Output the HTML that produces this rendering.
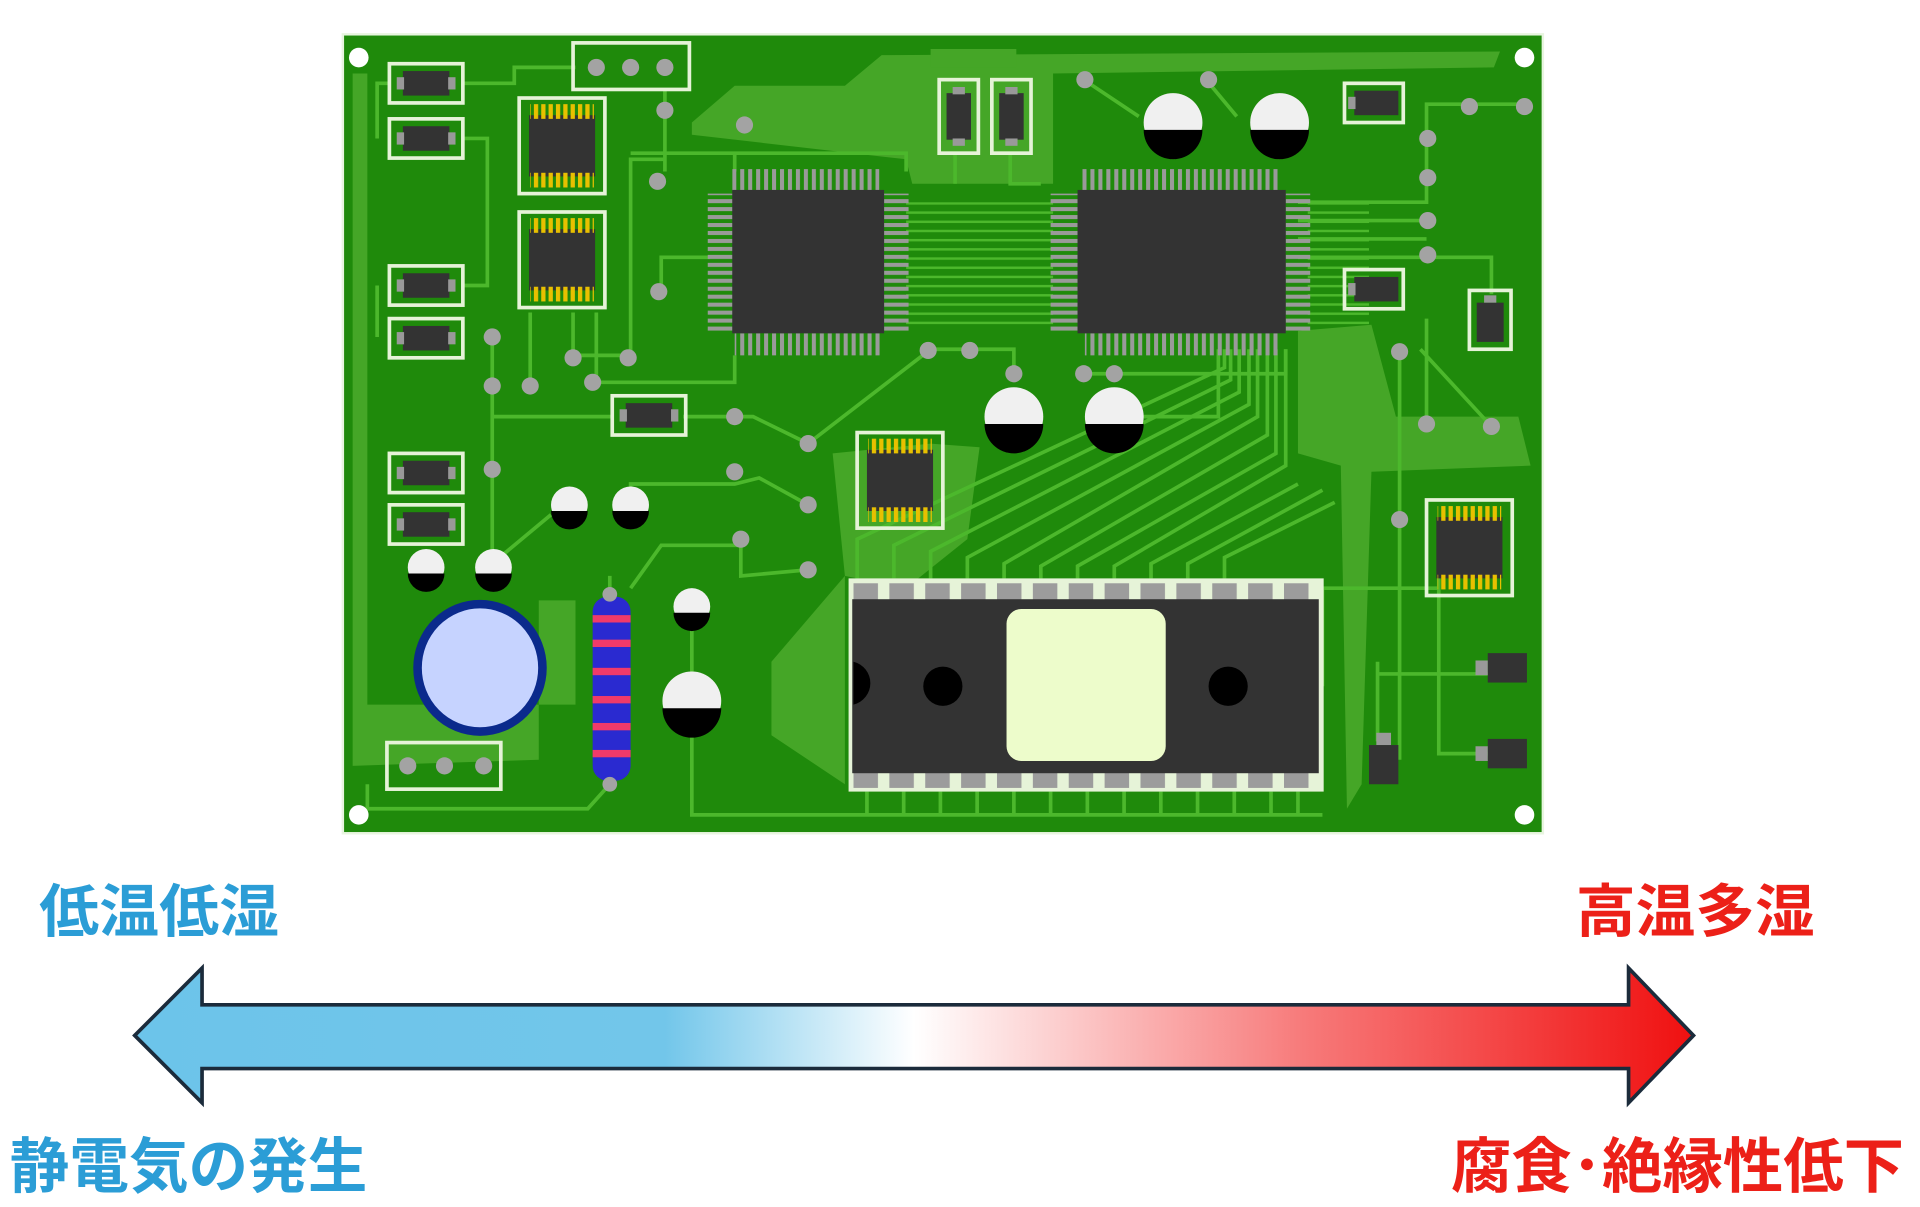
<!DOCTYPE html>
<html><head><meta charset="utf-8"><style>
html,body{margin:0;padding:0;background:#fff;width:1920px;height:1207px;overflow:hidden}
svg{display:block}
text{font-family:"Liberation Sans","Noto Sans CJK JP",sans-serif;font-weight:bold}
</style></head><body>
<svg width="1920" height="1207" viewBox="0 0 1568 985" preserveAspectRatio="none" xmlns="http://www.w3.org/2000/svg">
<defs>
<linearGradient id="ag" x1="110" x2="1383" y1="0" y2="0" gradientUnits="userSpaceOnUse">
<stop offset="0" stop-color="#6cc4ea"/><stop offset="0.34" stop-color="#72c6ea"/>
<stop offset="0.5" stop-color="#ffffff"/><stop offset="0.75" stop-color="#f77a7a"/><stop offset="1" stop-color="#f01010"/></linearGradient>
<pattern id="pv" width="6.5" height="20" patternUnits="userSpaceOnUse"><rect width="3.3" height="20" fill="#9a9a9a"/></pattern>
<pattern id="ph" width="20" height="6.5" patternUnits="userSpaceOnUse"><rect width="20" height="3.3" fill="#9a9a9a"/></pattern>
<pattern id="py" width="6" height="20" patternUnits="userSpaceOnUse"><rect width="3.5" height="20" fill="#e8c000"/></pattern>
<pattern id="pd" width="29.3" height="20" patternUnits="userSpaceOnUse" x="697"><rect width="20" height="20" fill="#9c9c9c"/></pattern>
<pattern id="tr" width="20" height="7.5" patternUnits="userSpaceOnUse" y="165"><rect width="20" height="2" fill="#4cb82c"/></pattern>
<g id="res"><rect x="0" y="0" width="60" height="32" fill="none" stroke="#e6f3d8" stroke-width="3"/><rect x="11" y="6" width="38" height="20" fill="#333"/><rect x="6" y="11" width="6" height="10" fill="#999"/><rect x="48" y="11" width="6" height="10" fill="#999"/></g>
<g id="vres"><rect x="0" y="0" width="32" height="60" fill="none" stroke="#e6f3d8" stroke-width="3"/><rect x="6" y="11" width="20" height="38" fill="#333"/><rect x="11" y="6" width="10" height="6" fill="#999"/><rect x="11" y="48" width="10" height="6" fill="#999"/></g>
<g id="soic"><rect x="0" y="0" width="70" height="78" fill="none" stroke="#e6f3d8" stroke-width="3"/><rect x="8" y="14" width="54" height="50" fill="#333"/><rect x="9" y="5" width="52" height="12" fill="url(#py)"/><rect x="9" y="61" width="52" height="12" fill="url(#py)"/></g>
<g id="cap"><circle r="24" fill="#f0f0f0"/><path d="M-24 6 A24 24 0 0 0 24 6 Z" fill="#000"/></g>
<g id="scap"><circle r="15" fill="#f0f0f0"/><path d="M-15 5 A15 15 0 0 0 15 5 Z" fill="#000"/></g>
</defs>

<rect x="280" y="28" width="980" height="652" fill="#1f8a0b"/>
<rect x="280" y="28" width="980" height="652" fill="none" stroke="#e8f5e0" stroke-width="2"/>
<g fill="#45a627">
<polygon points="565,100 600,70 690,70 720,45 1225,42 1220,55 860,60 860,150 745,150 740,130 565,110"/>
<polygon points="680,370 760,362 800,365 790,440 740,480 690,470 630,540 630,600 690,640 690,470"/>
<polygon points="1060,270 1120,265 1140,340 1240,340 1250,380 1120,385 1112,640 1100,660 1095,380 1060,370"/>
<polygon points="288,60 300,60 300,575 470,575 470,490 440,490 440,620 288,625"/>
<polygon points="760,40 830,40 830,55 760,55"/>
</g>
<g stroke="#4cb82c" stroke-width="3" fill="none">
<path d="M378 68 H420 V55 H470"/><path d="M378 113 H398 V233 H378"/><path d="M318 68 H308 V113 M308 233 V275"/>
<path d="M543 72 V130 H515 V290 M543 90 V140"/><path d="M515 125 H600 V140 M600 125 H740 V140"/>
<path d="M540 238 V210 H580"/><path d="M402 275 V455 M402 340 H500 M558 340 H600 L615 340 L660 362"/>
<path d="M468 290 V255 M487 312 V255 M433 315 V255 M487 312 H600 V290"/><path d="M470 290 H515"/>
<path d="M660 362 L760 285 H790 M790 285 H828 V300"/>
<path d="M885 65 L930 95 M985 65 L1010 95 M1045 100 V130 M958 100 V130"/>
<path d="M780 125 V150 M825 125 V150 H850"/>
<path d="M1060 165 H1165 V85 H1245 M1060 180 H1165 M1060 195 H1165 M1060 210 H1218 V240"/>
<path d="M1143 285 V620 M1165 260 V345 M1160 285 L1218 348"/>
<path d="M402 460 L450 420 M515 412 V395 H600 L620 390 L660 412 M515 480 L540 445 H605 V470 L660 465"/>
<path d="M498 487 V470 M498 640 L480 660 H300 V640"/>
<path d="M565 510 V665 H1080 M565 520 V550"/>
<path d="M1125 550 H1215 M1125 540 V605 M1175 470 V615 H1215"/>
<path d="M885 305 H1050 V285 M910 340 H995 V285"/>
</g>
<g stroke="#4cb82c" stroke-width="3" fill="none">
<path d="M700 472 V440 L1000 300 V285"/><path d="M730 472 V445 L1005 310 V285"/><path d="M760 472 V450 L1012 320 V285"/>
<path d="M790 472 V455 L1020 330 V285"/><path d="M820 472 V460 L1027 340 V285"/><path d="M850 472 V462 L1035 355 V285"/>
<path d="M880 472 V462 L1042 370 V285"/><path d="M910 472 V462 L1050 380 V285"/><path d="M940 472 V460 L1060 395"/>
<path d="M970 472 V460 L1080 400"/><path d="M1000 472 V455 L1090 410"/>
<path d="M1080 560 V480 H1175"/>
</g>
<g stroke="#4cb82c" stroke-width="3"><path d="M708 646 V665 M738 646 V665 M768 646 V665 M798 646 V665 M828 646 V665 M858 646 V665 M888 646 V665 M918 646 V665 M948 646 V665 M978 646 V665 M1008 646 V665 M1038 646 V665 M1060 646 V665"/></g>
<rect x="740" y="165" width="120" height="100" fill="url(#tr)"/>
<rect x="1068" y="165" width="50" height="100" fill="url(#tr)"/>

<rect x="598" y="138" width="120" height="18" fill="url(#pv)"/>
<rect x="600" y="272" width="120" height="18" fill="url(#pv)"/>
<rect x="578" y="158" width="22" height="112" fill="url(#ph)"/>
<rect x="722" y="158" width="20" height="112" fill="url(#ph)"/>
<rect x="598" y="155" width="124" height="117" fill="#333"/>
<rect x="884" y="138" width="162" height="18" fill="url(#pv)"/>
<rect x="886" y="272" width="160" height="18" fill="url(#pv)"/>
<rect x="858" y="158" width="22" height="112" fill="url(#ph)"/>
<rect x="1050" y="158" width="20" height="112" fill="url(#ph)"/>
<rect x="880" y="155" width="170" height="117" fill="#333"/>

<use href="#res" x="318" y="52"/><use href="#res" x="318" y="97"/><use href="#res" x="318" y="217"/>
<use href="#res" x="318" y="260"/><use href="#res" x="318" y="370"/><use href="#res" x="318" y="412"/>
<use href="#res" x="500" y="323"/>
<use href="#vres" x="767" y="65"/><use href="#vres" x="810" y="65"/>
<g><rect x="1098" y="68" width="48" height="32" fill="none" stroke="#e6f3d8" stroke-width="3"/><rect x="1106" y="74" width="36" height="20" fill="#333"/><rect x="1101" y="79" width="6" height="10" fill="#999"/></g>
<g><rect x="1098" y="220" width="48" height="32" fill="none" stroke="#e6f3d8" stroke-width="3"/><rect x="1106" y="226" width="36" height="20" fill="#333"/><rect x="1101" y="231" width="6" height="10" fill="#999"/></g>
<g><rect x="1200" y="237" width="34" height="48" fill="none" stroke="#e6f3d8" stroke-width="3"/><rect x="1206" y="247" width="22" height="32" fill="#333"/><rect x="1212" y="241" width="10" height="6" fill="#999"/></g>
<rect x="468" y="35" width="95" height="38" fill="none" stroke="#e6f3d8" stroke-width="3"/>
<rect x="316" y="606" width="93" height="38" fill="none" stroke="#e6f3d8" stroke-width="3"/>
<use href="#soic" x="424" y="80"/><use href="#soic" x="424" y="173"/><use href="#soic" x="700" y="353"/><use href="#soic" x="1165" y="408"/>

<g fill="#a3a3a3">
<circle cx="487" cy="55" r="7"/><circle cx="515" cy="55" r="7"/><circle cx="543" cy="55" r="7"/>
<circle cx="333" cy="625" r="7"/><circle cx="363" cy="625" r="7"/><circle cx="395" cy="625" r="7"/>
<circle cx="543" cy="90" r="7"/><circle cx="537" cy="148" r="7"/><circle cx="608" cy="102" r="7"/><circle cx="538" cy="238" r="7"/>
<circle cx="402" cy="275" r="7"/><circle cx="402" cy="315" r="7"/><circle cx="433" cy="315" r="7"/><circle cx="468" cy="292" r="7"/>
<circle cx="513" cy="292" r="7"/><circle cx="484" cy="312" r="7"/><circle cx="600" cy="340" r="7"/><circle cx="660" cy="362" r="7"/>
<circle cx="402" cy="383" r="7"/><circle cx="600" cy="385" r="7"/><circle cx="660" cy="412" r="7"/><circle cx="605" cy="440" r="7"/><circle cx="660" cy="465" r="7"/>
<circle cx="758" cy="286" r="7"/><circle cx="792" cy="286" r="7"/><circle cx="828" cy="305" r="7"/><circle cx="885" cy="305" r="7"/><circle cx="910" cy="305" r="7"/>
<circle cx="886" cy="65" r="7"/><circle cx="987" cy="65" r="7"/><circle cx="1200" cy="87" r="7"/><circle cx="1245" cy="87" r="7"/>
<circle cx="1166" cy="113" r="7"/><circle cx="1166" cy="145" r="7"/><circle cx="1166" cy="180" r="7"/><circle cx="1166" cy="208" r="7"/>
<circle cx="1143" cy="287" r="7"/><circle cx="1165" cy="346" r="7"/><circle cx="1218" cy="348" r="7"/><circle cx="1143" cy="424" r="7"/>
</g>

<use href="#cap" x="958" y="100"/><use href="#cap" x="1045" y="100"/><use href="#cap" x="828" y="340"/><use href="#cap" x="910" y="340"/><use href="#cap" x="565" y="572"/>
<use href="#scap" x="465" y="412"/><use href="#scap" x="515" y="412"/><use href="#scap" x="348" y="463"/><use href="#scap" x="403" y="463"/><use href="#scap" x="565" y="495"/>
<ellipse cx="392" cy="545" rx="51" ry="52" fill="#c6d3ff" stroke="#0b2a8c" stroke-width="7"/>
<rect x="484" y="487" width="31" height="150" rx="12" fill="#2a2ad0"/>
<g fill="#f03a6a"><rect x="484" y="502" width="31" height="6"/><rect x="484" y="522" width="31" height="6"/><rect x="484" y="545" width="31" height="6"/><rect x="484" y="568" width="31" height="6"/><rect x="484" y="590" width="31" height="6"/><rect x="484" y="612" width="31" height="6"/></g>
<circle cx="498" cy="485" r="6" fill="#a3a3a3"/><circle cx="498" cy="640" r="6" fill="#a3a3a3"/>

<rect x="693" y="472" width="388" height="174" fill="#e6f3d8"/>
<rect x="697" y="476" width="380" height="14" fill="url(#pd)"/>
<rect x="697" y="630" width="380" height="13" fill="url(#pd)"/>
<rect x="696" y="489" width="381" height="142" fill="#333"/>
<rect x="822" y="497" width="130" height="124" rx="12" fill="#edfccb"/>
<circle cx="770" cy="560" r="16" fill="#000"/><circle cx="1003" cy="560" r="16" fill="#000"/>
<path d="M697 540 A18 18 0 0 1 697 575 Z" fill="#000"/>
<rect x="1215" y="533" width="32" height="24" fill="#333"/><rect x="1205" y="539" width="10" height="12" fill="#999"/>
<rect x="1215" y="603" width="32" height="24" fill="#333"/><rect x="1205" y="609" width="10" height="12" fill="#999"/>
<rect x="1118" y="608" width="24" height="32" fill="#333"/><rect x="1124" y="598" width="12" height="10" fill="#999"/>
<g fill="#fff"><circle cx="293" cy="47" r="8"/><circle cx="1245" cy="47" r="8"/><circle cx="293" cy="665" r="8"/><circle cx="1245" cy="665" r="8"/></g>

<text x="32" y="760" font-size="47" fill="#2b9dd6" textLength="196" lengthAdjust="spacingAndGlyphs">低温低湿</text>
<text x="1287" y="760" font-size="47" fill="#ec2018" textLength="195" lengthAdjust="spacingAndGlyphs">高温多湿</text>
<polygon points="110,845 165,790 165,820 1330,820 1330,790 1383,845 1330,900 1330,872 165,872 165,900" fill="url(#ag)" stroke="#1b2b3b" stroke-width="3" stroke-linejoin="miter"/>
<text x="8" y="969" font-size="49" fill="#2b9dd6" textLength="292" lengthAdjust="spacingAndGlyphs">静電気の発生</text>
<text x="1185" y="969" font-size="49" fill="#ec2018" textLength="370" lengthAdjust="spacingAndGlyphs">腐食･絶縁性低下</text>
</svg>
</body></html>
